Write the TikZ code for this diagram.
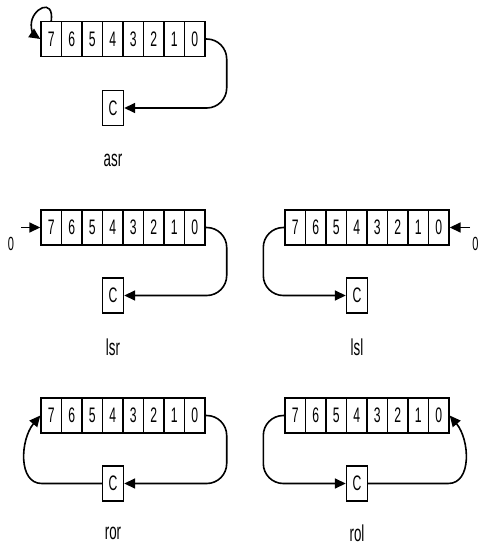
\documentclass[tikz,border=0pt]{standalone}
\usepackage{fontspec}
\setmainfont{Liberation Sans}
\newfontfamily\regfont{Liberation Sans}[FakeStretch=0.58]
\usetikzlibrary{arrows.meta}

\tikzset{
  cell/.style={draw, line width=1.4pt, inner sep=0pt, minimum width=20.5pt,
    minimum height=35pt, font=\regfont\fontsize{21}{21}\selectfont},
  cbox/.style={cell, minimum width=21pt},
  lbl/.style={inner sep=0pt, font=\regfont\fontsize{23}{23}\selectfont},
  zero/.style={inner sep=0pt, font=\regfont\fontsize{19}{19}\selectfont},
  flow/.style={line width=1.6pt, -{Triangle[length=11pt,width=10pt]}},
  roundflow/.style={flow, rounded corners=20pt},
}

% eight-bit register: prefix, x of left edge, y of centre line
\newcommand\bitreg[3]{%
  \foreach \b [count=\k from 0] in {7,...,0} {
    \node[cell] (#1-\b) at ({#2+10.25+20.5*\k},#3) {\b};
  }%
}

\begin{document}
\begin{tikzpicture}[x=1pt,y=-1pt]
\useasboundingbox (0,0) rectangle (480,549);

% arithmetic shift right
\bitreg{a}{41}{39}
\node[cbox] (a-c) at (113,108) {C};
\node[lbl] (a-l) at (113,160) {asr};
\draw[flow] (a-7.north) .. controls +(3,-24) and +(0,-16) .. ++(-20,4)
  .. controls +(0,8) and +(-6,-4) .. (a-7.west);
\draw[roundflow] (a-0.east) -- ++(21,0) |- (a-c.east);

% logical shift right
\bitreg{s}{41}{227.5}
\node[cbox] (s-c) at (113,295.5) {C};
\node[lbl] (s-l) at (113,347) {lsr};
\coordinate (s-in) at (21,227.5);
\node[zero] (s-zero) at (11,244) {0};
\draw[flow] (s-in) -- (s-7.west);
\draw[roundflow] (s-0.east) -- ++(21,0) |- (s-c.east);

% logical shift left
\bitreg{l}{285}{227.5}
\node[cbox] (l-c) at (357,295.5) {C};
\node[lbl] (l-l) at (357,347) {lsl};
\coordinate (l-in) at (470,227.5);
\node[zero] (l-zero) at (475.5,244) {0};
\draw[flow] (l-in) -- (l-0.east);
\draw[roundflow] (l-7.west) -- ++(-21,0) |- (l-c.west);

% rotate right through carry
\bitreg{r}{41}{415.5}
\node[cbox] (r-c) at (113,483.5) {C};
\node[lbl] (r-l) at (113,533) {ror};
\draw[roundflow] (r-0.east) -- ++(21,0) |- (r-c.east);
\draw[flow] (r-c.west) -- ++(-60,0)
  .. controls +(-24,0) and +(-20,24) .. (r-7.west);

% rotate left through carry
\bitreg{o}{285}{415.5}
\node[cbox] (o-c) at (357,483.5) {C};
\node[lbl] (o-l) at (357,533) {rol};
\draw[roundflow] (o-7.west) -- ++(-21,0) |- (o-c.west);
\draw[flow] (o-c.east) -- ++(80,0)
  .. controls +(24,0) and +(20,24) .. (o-0.east);

\end{tikzpicture}
\end{document}
